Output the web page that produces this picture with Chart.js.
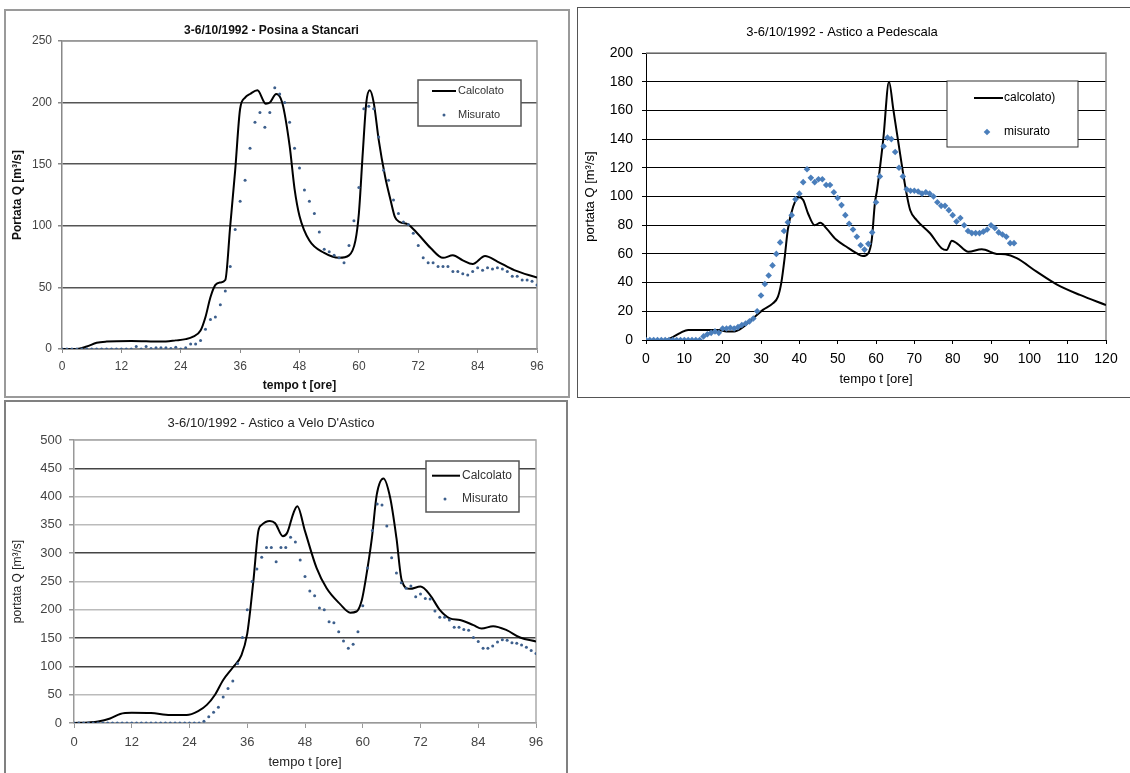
<!DOCTYPE html>
<html>
<head>
<meta charset="utf-8">
<script src="https://cdn.jsdelivr.net/npm/chart.js@4.4.1/dist/chart.umd.min.js"></script>
<style>
body { margin: 0; background: #fff; width: 1130px; height: 773px; overflow: hidden; position: relative; }
.frame { position: absolute; box-sizing: border-box; }
.wrap { position: absolute; }
#frame1 { left: 4px; top: 9px; width: 566px; height: 389px; border: 2px solid #9a9a9a; }
#frame2 { left: 577px; top: 7px; width: 560px; height: 391px; border: 1px solid #555; }
#frame3 { left: 4px; top: 400px; width: 564px; height: 380px; border: 2px solid #808080; }
#wrap1 { left: 6px; top: 11px; width: 554px; height: 385px; }
#wrap2 { left: 578px; top: 8px; width: 544px; height: 388px; }
#wrap3 { left: 6px; top: 402px; width: 628px; height: 371px; }
</style>
</head>
<body>
<div class="frame" id="frame1"></div>
<div class="frame" id="frame2"></div>
<div class="frame" id="frame3"></div>
<div class="wrap" id="wrap1"><canvas id="chart1"></canvas></div>
<div class="wrap" id="wrap2"><canvas id="chart2"></canvas></div>
<div class="wrap" id="wrap3"><canvas id="chart3"></canvas></div>
<script>
const FONT = '"Liberation Sans", Arial, sans-serif';

// measured values are hourly, 0..96
const ore = [0,1,2,3,4,5,6,7,8,9,10,11,12,13,14,15,16,17,18,19,20,21,22,23,24,25,26,27,28,29,30,31,32,33,34,35,36,37,38,39,40,41,42,43,44,45,46,47,48,49,50,51,52,53,54,55,56,57,58,59,60,61,62,63,64,65,66,67,68,69,70,71,72,73,74,75,76,77,78,79,80,81,82,83,84,85,86,87,88,89,90,91,92,93,94,95,96];

// Posina a Stancari
const posinaCalcT = [0,3,5,7,9,14,20,23,25,26.5,28,29,30,31,32,33,34,35,36,37,38,39.5,41.2,42,43.3,44.5,46,47,48,50,53,56,58,59.3,60,60.8,61.5,62.2,63,64,65.3,66.4,67.3,68.3,70,71.8,74.5,77,79,81,83,85.5,88,91.4,96];
const posinaCalcQ = [0,0,2,5,6,6.5,6,7,8,10,15,26,42,52,54,56,100,145,195,204,207,210,199,200,207,200,165,130,108,88,78,74,76,88,110,160,200,210,200,170,140,121,107,103,101,94,82,74,76,72,69,75.5,71,64,58];
const posinaMisQ = [0,0,0,0,0,0,0,0,0,0,0,0,0,0,0,2,0,2,0.5,1,1,1,0.5,1.5,0,1,4,4,7,16,24,26,36,47,67,97,120,137,163,184,192,180,192,212,207,200,184,163,147,129,120,110,95,81,79,76,74,70,84,104,131,195,197,195,172,145,137,121,110,103,101,94,84,74,70,70,67,67,67,63,63,61,60,63,66,64,66,65,66,65,63,59,59,56,56,55,52];

// Astico a Pedescala
const pedCalcT = [0,5,7,9,11,15,19,21,23,25.3,27.9,30.5,33.1,34.4,35.3,36.2,37,38.4,39.9,41,42.3,44,45.5,47,49.6,52.3,54.9,56.6,58,58.9,59.7,60.3,61.9,63.4,64.5,65.7,67.9,68.9,70.6,74.1,77.1,78.4,79.8,81.1,84.1,87.6,91.5,93.7,96.7,101.9,107.1,113.2,120];
const pedCalcQ = [0,0,2,5,7,7,7,6,6,9,15,21,25.5,30,40,58,77,93,99.5,97.5,88,80,81.7,78,70,65,60.5,58.5,60.5,70,95,105,140,180,161,140,103,90.6,83.6,74.4,64,62.7,69.2,67.4,61.5,63.2,60,59.7,57,47.6,38.8,31.4,24.4];
const pedMisQ = [0,0,0,0,0,0,0,0,0,0,0,0,0,0,0,2.5,4,5,6,5,8,8,8.5,8,9,10.5,11.5,13,15,20,31,39,45,52,60,68,76,82,87,98,102,110,119,113,110,112,112,108,108,103,99,94,87,81,77,72,66,63,67,75,96,114,135,141,140,131,120,114,105,104,104,103.5,102,103,102,100,96,93.5,93.5,90.5,87,82.5,85,80,76,74.5,74.5,74.5,75.5,77,80,78,75,73.5,72,67.5,67.5];

// Astico a Velo D'Astico
const veloCalcT = [0,3,5,7.5,9.6,12,16,20,23.4,25.8,27.6,29.3,31,33,34.8,36,36.7,37.3,38.3,39,40.7,41.8,43.4,44.3,45.6,46.4,48,50.4,52.5,55.3,57.4,58.7,59.8,60.6,61.9,62.9,64.3,65.7,67,68.1,69.8,72,74,76,78.1,80.2,83,84.7,87.1,89.9,92.7,96];
const veloCalcQ = [0,1,2.5,8,16,18,17.5,14,14,21,32,50,76,98,120,158,205,253,339,350,357,353,330,336,371,383,339,274,238,210,195,197,217,253,327,403,432,398,327,252,237,241,226,200,185,182,173,167,171,164,151,144];
const veloMisQ = [0,0,0,0,0,0,0,0,0,0,0,0,0,0,0,0,0,0,0,0,0,0,0,0,0,0,0,3,11,19,28,46,61,74,105,151,200,250,272,293,310,310,285,310,310,328,320,288,259,233,225,203,200,179,177,161,145,132,139,161,207,274,340,387,385,348,292,265,248,238,242,223,228,220,219,198,187,187,182,169,169,165,164,151,144,132,132,136,143,147,146,142,141,138,134,128,123];

function toPoints(xs, ys) {
    return ys.map((y, i) => ({ x: xs[i], y: y }));
}

// top + right edge of the plot area
const framePlugin = {
    id: 'frame',
    beforeDatasetsDraw(chart, args, opts) {
        const { ctx, chartArea: a } = chart;
        ctx.save();
        ctx.strokeStyle = opts.color;
        ctx.lineWidth = opts.width;
        ctx.beginPath();
        ctx.moveTo(a.left, a.top);
        ctx.lineTo(a.right, a.top);
        ctx.lineTo(a.right, a.bottom);
        ctx.stroke();
        ctx.restore();
    }
};

// boxed legend inside the plot, like the spreadsheet one
const boxLegend = {
    id: 'boxLegend',
    afterDatasetsDraw(chart, args, o) {
        const { ctx, chartArea: a } = chart;
        const x = a.left + o.x, y = a.top + o.y;
        const line = chart.data.datasets[0];
        const pts = chart.data.datasets[1];
        ctx.save();
        ctx.fillStyle = '#fff';
        ctx.fillRect(x, y, o.w, o.h);
        ctx.strokeStyle = o.border;
        ctx.lineWidth = o.borderWidth;
        ctx.strokeRect(x, y, o.w, o.h);

        ctx.strokeStyle = line.borderColor;
        ctx.lineWidth = line.borderWidth;
        ctx.beginPath();
        ctx.moveTo(x + o.line0, y + o.row1);
        ctx.lineTo(x + o.line1, y + o.row1);
        ctx.stroke();

        ctx.fillStyle = pts.pointBackgroundColor;
        Chart.helpers.drawPoint(ctx, { pointStyle: pts.pointStyle, radius: pts.pointRadius, rotation: 0, borderWidth: 0 }, x + o.markX, y + o.row2);

        ctx.font = o.font;
        ctx.fillStyle = o.color;
        ctx.textBaseline = 'middle';
        ctx.textAlign = 'left';
        ctx.fillText(line.label, x + o.textX, y + o.row1);
        ctx.fillText(pts.label, x + o.textX, y + o.row2);
        ctx.restore();
    }
};

function hydroChart(canvasId, s) {
    return new Chart(document.getElementById(canvasId), {
        type: 'scatter',
        data: {
            datasets: [
                {
                    label: s.labels[0],
                    data: toPoints(s.calcT, s.calcQ),
                    showLine: true,
                    borderColor: '#000',
                    borderWidth: 2,
                    pointRadius: 0,
                    pointHoverRadius: 0,
                    cubicInterpolationMode: 'monotone',
                    order: 1
                },
                {
                    label: s.labels[1],
                    data: toPoints(ore, s.misQ),
                    pointStyle: s.marker,
                    pointRadius: s.markerSize,
                    pointHoverRadius: s.markerSize,
                    pointBackgroundColor: s.markerColor,
                    pointBorderWidth: 0,
                    order: 0
                }
            ]
        },
        plugins: [framePlugin, boxLegend],
        options: {
            animation: false,
            responsive: true,
            maintainAspectRatio: false,
            events: [],
            layout: { padding: { left: 0, top: 0, right: s.padRight, bottom: 0 } },
            plugins: {
                legend: { display: false },
                tooltip: { enabled: false },
                title: {
                    display: true,
                    text: s.title,
                    color: s.textColor,
                    font: { family: FONT, size: s.titleSize, weight: s.bold ? 'bold' : 'normal' },
                    padding: { top: s.titlePad[0], bottom: s.titlePad[1] }
                },
                frame: { color: s.frameColor, width: 1.5 },
                boxLegend: s.legend
            },
            scales: {
                x: {
                    type: 'linear',
                    min: 0,
                    max: s.xMax,
                    ticks: { stepSize: s.xStep, autoSkip: false, maxRotation: 0, color: s.tickColor, padding: s.xTickPad, font: { family: FONT, size: s.tickSize } },
                    grid: { drawOnChartArea: false, drawTicks: true, tickLength: s.tickLen, tickColor: s.axisColor },
                    border: { display: true, color: s.axisColor, width: s.axisWidth },
                    title: {
                        display: true,
                        text: 'tempo t [ore]',
                        color: s.textColor,
                        font: { family: FONT, size: s.axisTitleSize, weight: s.bold ? 'bold' : 'normal' },
                        padding: { top: 0, bottom: s.xTitlePad }
                    },
                    afterFit(sc) { sc.height = s.xAxisH; sc.paddingLeft = 0; sc.paddingRight = 0; }
                },
                y: {
                    type: 'linear',
                    min: 0,
                    max: s.yMax,
                    ticks: { stepSize: s.yStep, color: s.tickColor, padding: s.yTickPad, font: { family: FONT, size: s.tickSize } },
                    grid: { color: s.gridColor, lineWidth: s.gridWidth, drawTicks: true, tickLength: s.tickLen, tickColor: s.axisColor },
                    border: { display: true, color: s.axisColor, width: s.axisWidth },
                    title: {
                        display: true,
                        text: s.yTitle,
                        color: s.textColor,
                        font: { family: FONT, size: s.yTitleSize, weight: s.bold ? 'bold' : 'normal' },
                        padding: { top: s.yTitlePad, bottom: 0 }
                    },
                    afterFit(sc) { sc.width = s.yAxisW; sc.paddingTop = 0; sc.paddingBottom = 0; }
                }
            }
        }
    });
}

hydroChart('chart1', {
    title: '3-6/10/1992 - Posina a Stancari',
    labels: ['Calcolato', 'Misurato'],
    calcT: posinaCalcT, calcQ: posinaCalcQ, misQ: posinaMisQ,
    marker: 'circle', markerSize: 1.5, markerColor: '#3d5f8c',
    bold: true, textColor: '#111', tickColor: '#444',
    titleSize: 12, titlePad: [12.8, 2.8], axisTitleSize: 12, yTitleSize: 12,
    yTitle: 'Portata Q [m³/s]', yTitlePad: 4, xTitlePad: 3,
    tickSize: 12, tickLen: 4, xTickPad: 6.8, yTickPad: 6,
    xMax: 96, xStep: 12, yMax: 250, yStep: 50,
    yAxisW: 56, xAxisH: 47, padRight: 23,
    axisColor: '#888', axisWidth: 1.5, frameColor: '#999',
    gridColor: c => c.tick.value === 250 ? '#999' : '#555', gridWidth: 1.5,
    legend: { x: 356, y: 39, w: 103, h: 46, line0: 14, line1: 38, row1: 11, row2: 35, markX: 26, textX: 40,
              font: '11px ' + FONT, color: '#333', border: '#555', borderWidth: 1.5 }
});

hydroChart('chart2', {
    title: '3-6/10/1992 - Astico a Pedescala',
    labels: ['calcolato)', 'misurato'],
    calcT: pedCalcT, calcQ: pedCalcQ, misQ: pedMisQ,
    marker: 'rectRot', markerSize: 3.3, markerColor: '#4a7ebb',
    bold: false, textColor: '#000', tickColor: '#000',
    titleSize: 13, titlePad: [17, 12.4], axisTitleSize: 13, yTitleSize: 13,
    yTitle: 'portata Q [m³/s]', yTitlePad: 4.2, xTitlePad: 8.5,
    tickSize: 14, tickLen: 4, xTickPad: 6.4, yTickPad: 9,
    xMax: 120, xStep: 10, yMax: 200, yStep: 20,
    yAxisW: 68, xAxisH: 56, padRight: 16,
    axisColor: '#000', axisWidth: 1, frameColor: '#888',
    gridColor: '#000', gridWidth: 1,
    legend: { x: 301, y: 28, w: 131, h: 66, line0: 27, line1: 56, row1: 17, row2: 51, markX: 40, textX: 57,
              font: '12px ' + FONT, color: '#000', border: '#333', borderWidth: 1 }
});

hydroChart('chart3', {
    title: "3-6/10/1992 - Astico a Velo D'Astico",
    labels: ['Calcolato', 'Misurato'],
    calcT: veloCalcT, calcQ: veloCalcQ, misQ: veloMisQ,
    marker: 'circle', markerSize: 1.5, markerColor: '#3d5f8c',
    bold: false, textColor: '#222', tickColor: '#444',
    titleSize: 13, titlePad: [14, 8.4], axisTitleSize: 13, yTitleSize: 12,
    yTitle: 'portata Q [m³/s]', yTitlePad: 4.8, xTitlePad: 2.5,
    tickSize: 13, tickLen: 5, xTickPad: 7, yTickPad: 7,
    xMax: 96, xStep: 12, yMax: 500, yStep: 50,
    yAxisW: 68, xAxisH: 50, padRight: 98,
    axisColor: '#999', axisWidth: 1.5, frameColor: '#aaa',
    gridColor: c => [450, 300, 150, 100].includes(c.tick.value) ? '#444' : '#bbb', gridWidth: 1.5,
    legend: { x: 352, y: 21, w: 93, h: 51, line0: 6, line1: 34, row1: 14.7, row2: 38, markX: 19, textX: 36,
              font: '12px ' + FONT, color: '#333', border: '#555', borderWidth: 1.5 }
});
</script>
</body>
</html>
